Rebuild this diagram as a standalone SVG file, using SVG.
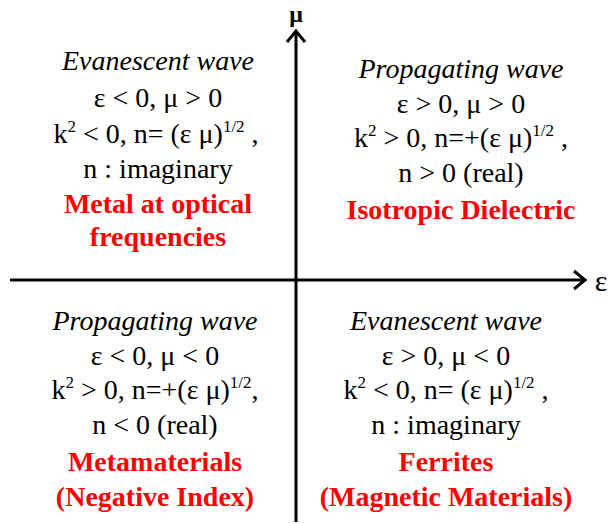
<svg xmlns="http://www.w3.org/2000/svg" width="611" height="524" viewBox="0 0 611 524">
<style>
  text { font-family: "Liberation Serif", "Times New Roman", serif; font-size: 28px; fill: #000; text-anchor: middle; }
  .it { font-style: italic; }
  .red { fill: #ff0000; font-weight: bold; }
  .sup { font-size: 17px; }
  .axis { stroke: #000; stroke-width: 3; fill: none; }
</style>
<rect width="611" height="524" fill="#fff"/>
<g id="axes">
  <line class="axis" x1="296" y1="522" x2="296" y2="31"/>
  <polyline class="axis" points="287,42 296,31 305,42"/>
  <line class="axis" x1="10" y1="280" x2="585" y2="280"/>
  <polyline class="axis" points="574,271 585,280 574,289"/>
  <text x="296" y="22" style="font-weight:bold;font-size:24px">&#956;</text>
  <text x="601" y="291" style="font-size:30px">&#949;</text>
</g>
<g id="q2">
  <text class="it" x="158" y="70">Evanescent wave</text>
  <text x="158" y="107">&#949; &lt; 0, &#956; &gt; 0</text>
  <text x="156" y="143">k<tspan class="sup" dy="-11">2</tspan><tspan dy="11"> &lt; 0, n= (&#949; &#956;)</tspan><tspan class="sup" dy="-11">1/2</tspan><tspan dy="11"> ,</tspan></text>
  <text x="158" y="178">n : imaginary</text>
  <text class="red" x="158" y="213">Metal at optical</text>
  <text class="red" x="158" y="246">frequencies</text>
</g>
<g id="q1">
  <text class="it" x="461" y="78">Propagating wave</text>
  <text x="461" y="113">&#949; &gt; 0, &#956; &gt; 0</text>
  <text x="461" y="147">k<tspan class="sup" dy="-11">2</tspan><tspan dy="11"> &gt; 0, n=+(&#949; &#956;)</tspan><tspan class="sup" dy="-11">1/2</tspan><tspan dy="11"> ,</tspan></text>
  <text x="461" y="182">n &gt; 0 (real)</text>
  <text class="red" x="461" y="219">Isotropic Dielectric</text>
</g>
<g id="q3">
  <text class="it" x="155" y="330">Propagating wave</text>
  <text x="155" y="365">&#949; &lt; 0, &#956; &lt; 0</text>
  <text x="155" y="399">k<tspan class="sup" dy="-11">2</tspan><tspan dy="11"> &gt; 0, n=+(&#949; &#956;)</tspan><tspan class="sup" dy="-11">1/2</tspan><tspan dy="11">,</tspan></text>
  <text x="155" y="434">n &lt; 0 (real)</text>
  <text class="red" x="155" y="471">Metamaterials</text>
  <text class="red" x="155" y="506">(Negative Index)</text>
</g>
<g id="q4">
  <text class="it" x="446" y="330">Evanescent wave</text>
  <text x="446" y="365">&#949; &gt; 0, &#956; &lt; 0</text>
  <text x="446" y="399">k<tspan class="sup" dy="-11">2</tspan><tspan dy="11"> &lt; 0, n= (&#949; &#956;)</tspan><tspan class="sup" dy="-11">1/2</tspan><tspan dy="11"> ,</tspan></text>
  <text x="446" y="434">n : imaginary</text>
  <text class="red" x="446" y="471">Ferrites</text>
  <text class="red" x="446" y="506">(Magnetic Materials)</text>
</g>
</svg>
